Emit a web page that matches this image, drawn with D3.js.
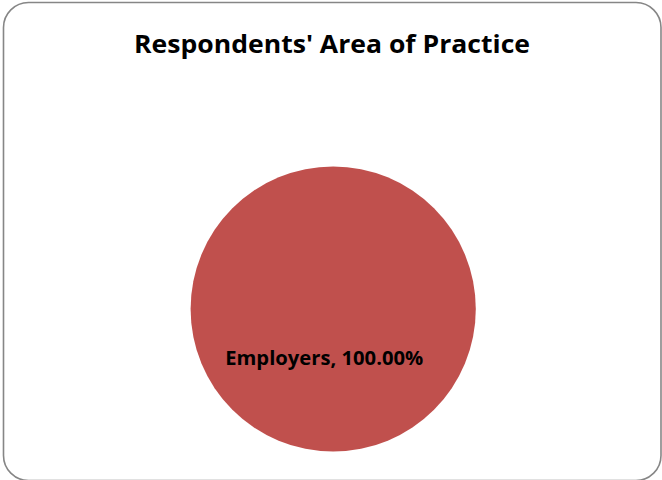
<!DOCTYPE html>
<html>
<head>
<meta charset="utf-8">
<script src="https://cdn.jsdelivr.net/npm/d3@7"></script>
<style>
  html, body { margin: 0; padding: 0; background: #fff; }
  svg { display: block; }
</style>
</head>
<body>
<div id="chart"></div>
<script>
const title = "Respondents' Area of Practice";
const categories = ["Employers"];
const values = [100];
const colors = ["#C0504D"];

const W = 662, H = 480;
const svg = d3.select("#chart").append("svg").attr("width", W).attr("height", H);

svg.append("rect")
  .attr("x", 3.5).attr("y", 2.5)
  .attr("width", 657.5).attr("height", 478)
  .attr("rx", 25).attr("ry", 25)
  .attr("fill", "#fff")
  .attr("stroke", "#868686")
  .attr("stroke-width", 1.6);

svg.append("text")
  .attr("x", 332).attr("y", 53)
  .attr("text-anchor", "middle")
  .attr("font-family", "'Open Sans', 'Liberation Sans', Arial, sans-serif")
  .attr("font-weight", "bold")
  .attr("font-size", 24.5)
  .attr("textLength", 396)
  .attr("lengthAdjust", "spacingAndGlyphs")
  .attr("fill", "#000")
  .text(title);

const cx = 333.2, cy = 309, r = 142.6;
const total = d3.sum(values);
const pie = d3.pie().sort(null).value(d => d.value);
const data = categories.map((c, i) => ({ name: c, value: values[i], color: colors[i] }));
const arcs = pie(data);
const arc = d3.arc().innerRadius(0).outerRadius(r);

const g = svg.append("g").attr("transform", `translate(${cx},${cy})`);
g.selectAll("path").data(arcs).enter().append("path")
  .attr("d", arc)
  .attr("fill", d => d.data.color);

g.selectAll("text.lbl").data(arcs).enter().append("text")
  .attr("class", "lbl")
  .attr("x", -9).attr("y", 56)
  .attr("text-anchor", "middle")
  .attr("font-family", "'Open Sans', 'Liberation Sans', Arial, sans-serif")
  .attr("font-weight", "bold")
  .attr("font-size", 19)
  .attr("textLength", 198)
  .attr("lengthAdjust", "spacingAndGlyphs")
  .attr("fill", "#000")
  .text(d => `${d.data.name}, ${(d.data.value / total * 100).toFixed(2)}%`);
</script>
</body>
</html>
